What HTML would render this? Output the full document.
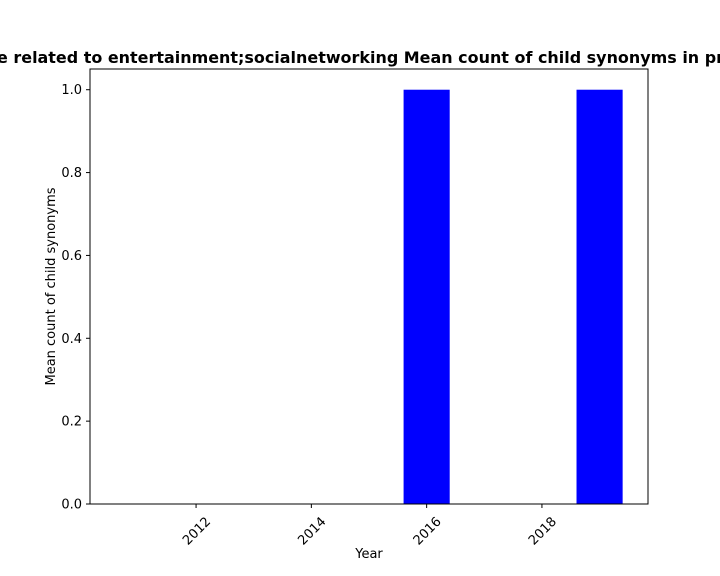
<!DOCTYPE html>
<html><head><meta charset="utf-8"><style>
body{margin:0;background:#fff;}
svg{display:block;font-family:"DejaVu Sans","Liberation Sans",sans-serif;}
</style></head><body>
<svg id="chart" width="720" height="576" viewBox="0 0 720 576">
<text x="-3" y="63" font-size="16" font-weight="bold" fill="#000" textLength="727" lengthAdjust="spacingAndGlyphs">e related to entertainment;socialnetworking Mean count of child synonyms in pr</text>
<g id="bars"></g>
<rect x="90" y="69" width="558" height="435" fill="none" stroke="#000" stroke-width="1"/>
<g id="xaxis"></g><g id="yaxis"></g>
<text x="369" y="558" font-size="13" text-anchor="middle">Year</text>
<text transform="translate(55,286.5) rotate(-90)" font-size="13" text-anchor="middle">Mean count of child synonyms</text>
</svg>
<script>
const years = [2011, 2012, 2013, 2014, 2015, 2016, 2017, 2018, 2019];
const values = [0, 0, 0, 0, 0, 1, 0, 0, 1];
const xTicks = [2012, 2014, 2016, 2018];
const yTicks = [0.0, 0.2, 0.4, 0.6, 0.8, 1.0];
const NS = "http://www.w3.org/2000/svg";
const L=90,R=648,T=69,B=504;
const xmin=2010.16,xmax=2019.84,ymax=1.05;
const xs=v=>L+(v-xmin)/(xmax-xmin)*(R-L);
const ys=v=>B-v/ymax*(B-T);
const bars=document.getElementById('bars');
years.forEach((y,i)=>{
  const r=document.createElementNS(NS,'rect');
  const x0=xs(y-0.4),x1=xs(y+0.4);
  r.setAttribute('x',x0);r.setAttribute('width',x1-x0);
  r.setAttribute('y',ys(values[i]));r.setAttribute('height',B-ys(values[i]));
  r.setAttribute('fill','#0000ff');
  
  
  bars.appendChild(r);
});
const xa=document.getElementById('xaxis');
xTicks.forEach(t=>{
  const x=xs(t);
  const l=document.createElementNS(NS,'line');
  l.setAttribute('x1',x);l.setAttribute('x2',x);l.setAttribute('y1',B);l.setAttribute('y2',B+4);l.setAttribute('stroke','#000');
  
  
  xa.appendChild(l);
  const tx=document.createElementNS(NS,'text');
  tx.setAttribute('transform','translate('+(x+9)+','+(B+12)+') rotate(-45)');
  tx.setAttribute('text-anchor','end');tx.setAttribute('font-size','13');tx.setAttribute('dominant-baseline','hanging');
  tx.textContent=t;
  
  
  xa.appendChild(tx);
});
const ya=document.getElementById('yaxis');
yTicks.forEach(t=>{
  const y=ys(t);
  const l=document.createElementNS(NS,'line');
  l.setAttribute('x1',L-4);l.setAttribute('x2',L);l.setAttribute('y1',y);l.setAttribute('y2',y);l.setAttribute('stroke','#000');
  
  
  ya.appendChild(l);
  const tx=document.createElementNS(NS,'text');
  tx.setAttribute('x',L-8);tx.setAttribute('y',y+4.5);tx.setAttribute('text-anchor','end');tx.setAttribute('font-size','13');
  tx.textContent=t.toFixed(1);
  
  
  ya.appendChild(tx);
});
</script>
</body></html>
